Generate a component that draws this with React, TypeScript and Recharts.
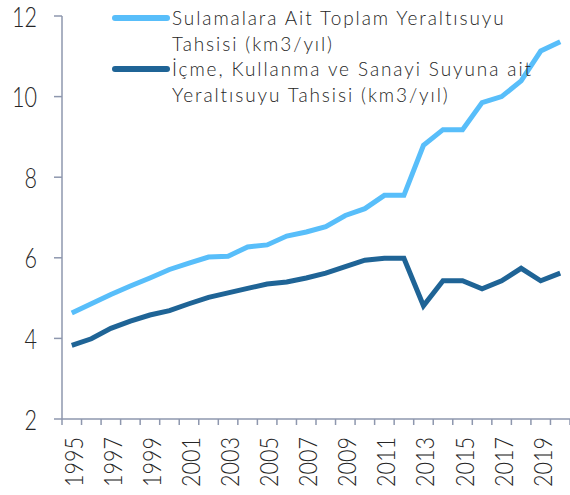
import React from 'react';
import { LineChart, Line, XAxis, YAxis } from 'recharts';

const years = [
  1995, 1996, 1997, 1998, 1999, 2000, 2001, 2002, 2003, 2004, 2005, 2006, 2007,
  2008, 2009, 2010, 2011, 2012, 2013, 2014, 2015, 2016, 2017, 2018, 2019, 2020,
];
const irrigation = [
  4.63, 4.86, 5.09, 5.3, 5.5, 5.71, 5.87, 6.02, 6.04, 6.27, 6.32, 6.54, 6.64,
  6.77, 7.05, 7.22, 7.55, 7.55, 8.79, 9.18, 9.18, 9.85, 10.0, 10.39, 11.13, 11.36,
];
const drinking = [
  3.83, 3.99, 4.25, 4.43, 4.58, 4.69, 4.86, 5.02, 5.13, 5.24, 5.35, 5.4, 5.5,
  5.62, 5.78, 5.94, 5.99, 5.99, 4.81, 5.43, 5.43, 5.23, 5.43, 5.74, 5.43, 5.62,
];
const yTicks = [2, 4, 6, 8, 10, 12];
const seriesNames = [
  'Sulamalara Ait Toplam Yeraltısuyu\nTahsisi (km3/yıl)',
  'İçme, Kullanma ve Sanayi Suyuna ait\nYeraltısuyu Tahsisi (km3/yıl)',
];
const seriesColors = ['#58befa', '#1f6496'];

const data = years.map((year, i) => ({
  year,
  irrigation: irrigation[i],
  drinking: drinking[i],
}));

const W = 570;
const H = 495;
const Y_AXIS_W = 62;
const AXIS_COLOR = '#8e97ae';
const TEXT_COLOR = '#262626';
const FONT = 'Lato, "Open Sans", sans-serif';
const HALF_STEP = (W - Y_AXIS_W) / years.length / 2;

const YearTick = (props: any) => {
  const { x, y, payload } = props;
  const year = payload.value as number;
  return (
    <g>
      <line x1={x - HALF_STEP} x2={x - HALF_STEP} y1={y - 8} y2={y - 2} stroke={AXIS_COLOR} strokeWidth={1.5} />
      {year === years[years.length - 1] && (
        <line x1={x + HALF_STEP} x2={x + HALF_STEP} y1={y - 8} y2={y - 2} stroke={AXIS_COLOR} strokeWidth={1.5} />
      )}
      {year % 2 === 1 && (
        <text
          transform={`translate(${x + 1},${y + 10}) rotate(-90)`}
          textAnchor="end"
          dominantBaseline="central"
          fill={TEXT_COLOR}
          fontSize={26}
          fontWeight={300}
          fontFamily={FONT}
          textLength={50}
          lengthAdjust="spacingAndGlyphs"
        >
          {year}
        </text>
      )}
    </g>
  );
};

const ValueTick = (props: any) => {
  const { x, y, payload } = props;
  const label = String(payload.value);
  return (
    <text
      x={x}
      y={y}
      textAnchor="end"
      dominantBaseline="central"
      fill={TEXT_COLOR}
      fontSize={27}
      fontWeight={300}
      fontFamily={FONT}
      textLength={label.length * 12.5}
      lengthAdjust="spacingAndGlyphs"
    >
      {label}
    </text>
  );
};

const ChartLegend: React.FC = () => (
  <div
    style={{
      position: 'absolute',
      left: 110,
      top: 5,
      fontFamily: FONT,
      fontSize: 19,
      fontWeight: 300,
      letterSpacing: '1.9px',
      color: TEXT_COLOR,
      lineHeight: '25.5px',
    }}
  >
    {seriesNames.map((name, i) => (
      <div key={name} style={{ display: 'flex', alignItems: 'flex-start' }}>
        <svg width={62} height={26} style={{ flexShrink: 0 }}>
          <line x1={5} x2={57} y1={13} y2={13} stroke={seriesColors[i]} strokeWidth={6} strokeLinecap="round" />
        </svg>
        <span style={{ whiteSpace: 'pre-line' }}>{name}</span>
      </div>
    ))}
  </div>
);

const App: React.FC = () => {
  return (
    <div style={{ position: 'absolute', left: 0, top: 0, width: W, height: H, background: '#fff' }}>
      <LineChart width={W} height={H} data={data} margin={{ top: 16, right: 0, bottom: 0, left: 0 }}>
        <XAxis
          dataKey="year"
          type="number"
          domain={[1994.5, 2020.5]}
          ticks={years}
          interval={0}
          height={76}
          tickLine={false}
          axisLine={{ stroke: AXIS_COLOR, strokeWidth: 1.5 }}
          tick={<YearTick />}
        />
        <YAxis
          domain={[2, 12]}
          ticks={yTicks}
          width={Y_AXIS_W}
          tickSize={8}
          tickMargin={17}
          axisLine={{ stroke: AXIS_COLOR, strokeWidth: 1.5 }}
          tickLine={{ stroke: AXIS_COLOR, strokeWidth: 1.5 }}
          tick={<ValueTick />}
        />
        <Line
          type="linear"
          dataKey="irrigation"
          name={seriesNames[0]}
          stroke={seriesColors[0]}
          strokeWidth={5}
          dot={false}
          isAnimationActive={false}
        />
        <Line
          type="linear"
          dataKey="drinking"
          name={seriesNames[1]}
          stroke={seriesColors[1]}
          strokeWidth={5}
          dot={false}
          isAnimationActive={false}
        />
      </LineChart>
      <ChartLegend />
    </div>
  );
};

export default App;
